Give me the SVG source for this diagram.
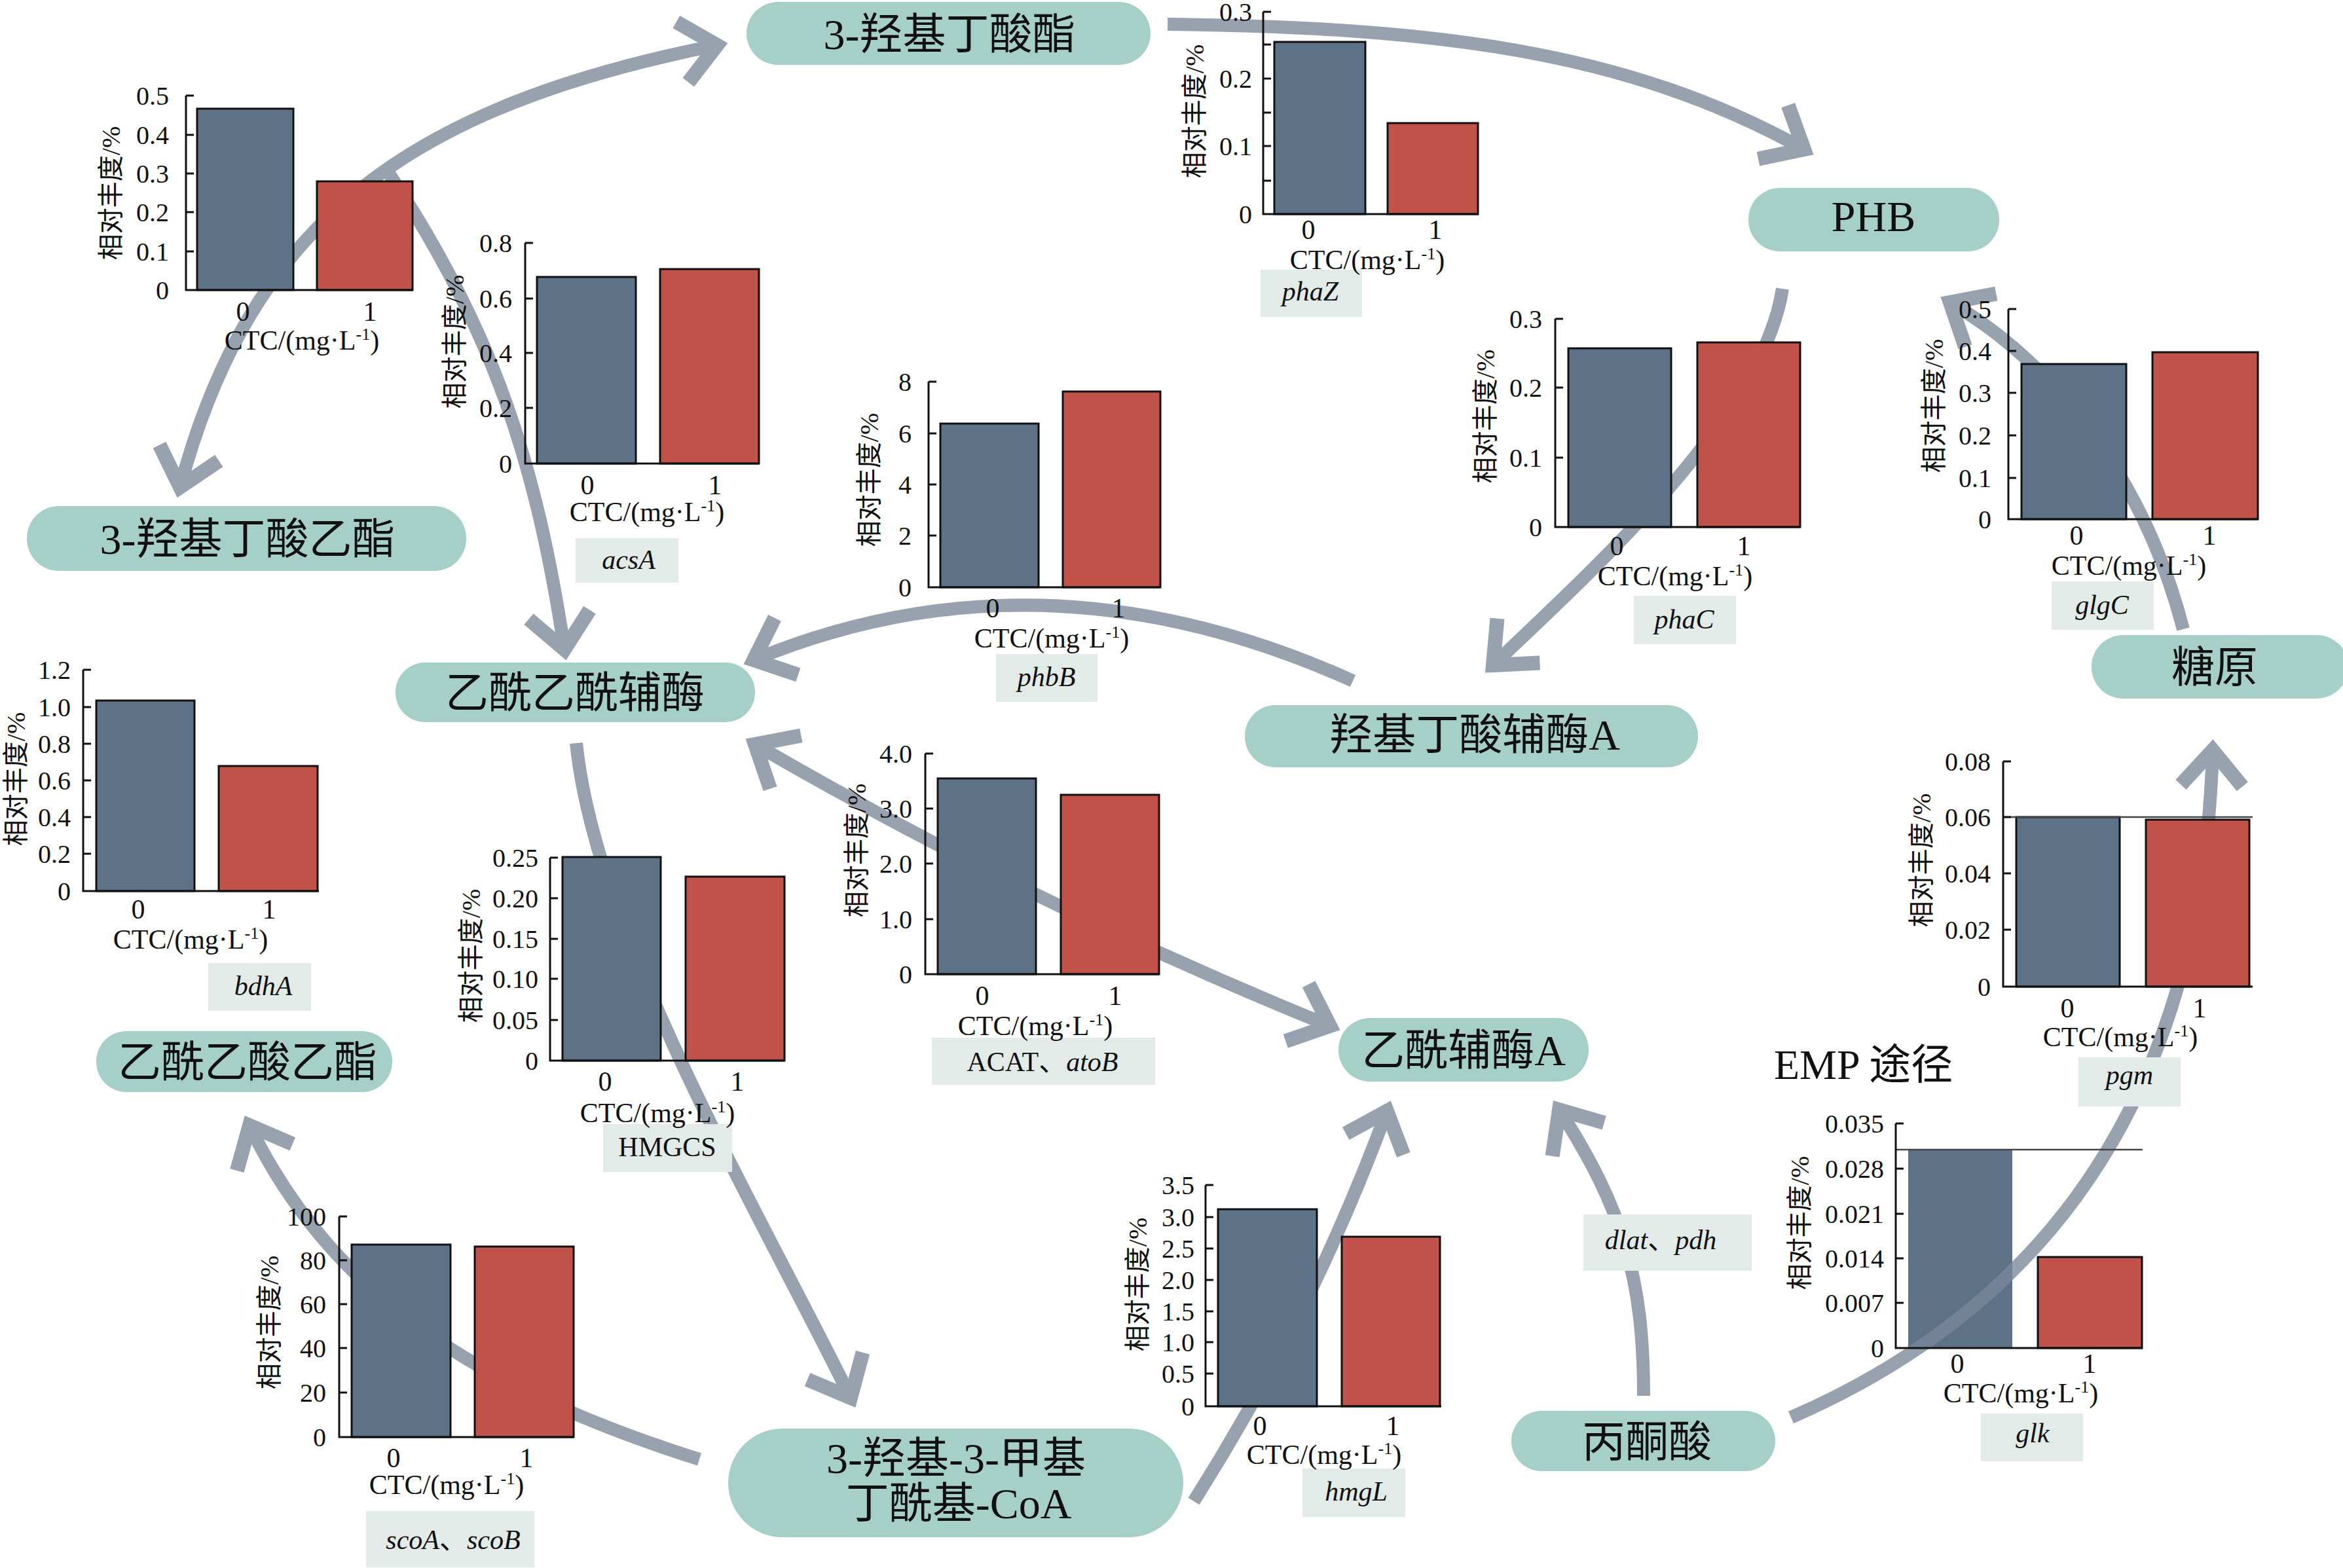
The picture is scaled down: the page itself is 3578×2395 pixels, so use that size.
<svg xmlns="http://www.w3.org/2000/svg" width="3578" height="2395" viewBox="0 0 3578 2395">
<style>
.cn{fill:none;stroke:#98a2ae;stroke-width:20;stroke-linecap:butt}
.nd{fill:#a6cfc7}
.nt{font-family:"Liberation Serif","Noto Sans CJK SC",serif;font-size:66px;fill:#111;text-anchor:middle}
.gb{fill:#e2ebe8}
.gt{font-family:"Liberation Serif","Noto Sans CJK SC",serif;font-size:42px;fill:#111;text-anchor:middle}
.it{font-style:italic}
.ax{fill:none;stroke:#111;stroke-width:3}
.tk{fill:none;stroke:#111;stroke-width:3}
.b0{fill:#5e7287;stroke:#111;stroke-width:3}
.b1{fill:#c1524a;stroke:#111;stroke-width:3}
.tl{font-family:"Liberation Serif",serif;font-size:40px;fill:#111;text-anchor:end}
.xl{font-family:"Liberation Serif",serif;font-size:42px;fill:#111;text-anchor:middle}
.sup{font-size:26px}
.yl{font-family:"Liberation Serif","Noto Sans CJK SC",serif;font-size:40px;fill:#111;text-anchor:middle;dominant-baseline:central}
.hl{fill:none;stroke:#444;stroke-width:2.5}
</style>
<defs>
<marker id="ah" markerUnits="userSpaceOnUse" orient="auto-start-reverse" refX="0" refY="0" markerWidth="200" markerHeight="200" style="overflow:visible">
<path d="M-54,-47 L0,0 L-54,47" fill="none" stroke="#98a2ae" stroke-width="22" stroke-linejoin="miter"/>
</marker>
<clipPath id="clipglk"><rect x="2914" y="1756" width="159" height="303"/></clipPath>
</defs>
<rect x="0" y="0" width="3578" height="2395" fill="#fff"/>

<g id="connectors">
<path class="cn" d="M275,744 C384,337 625,163 1095,69" marker-start="url(#ah)" marker-end="url(#ah)"/>
<path class="cn" d="M592,262 C756,507 820,715 862,992" marker-end="url(#ah)"/>
<path class="cn" d="M1783,37 C2185,42 2480,75 2755,228" marker-end="url(#ah)"/>
<path class="cn" d="M2722,441 C2692,639 2424,878 2280,1016" marker-end="url(#ah)"/>
<path class="cn" d="M2066,1040 Q1591,826 1151,1008" marker-end="url(#ah)"/>
<path class="cn" d="M1153,1137 Q1577,1383 2031,1567" marker-start="url(#ah)" marker-end="url(#ah)"/>
<path class="cn" d="M880,1135 C910,1433 1167,1865 1299,2135" marker-end="url(#ah)"/>
<path class="cn" d="M1068,2229 C754,2130 510,1989 381,1719" marker-end="url(#ah)"/>
<path class="cn" d="M1823,2293 Q2002,2011 2118,1697" marker-end="url(#ah)"/>
<path class="cn" d="M2510,2132 C2510,1952 2478,1846 2381,1695" marker-end="url(#ah)"/>
<path class="cn" d="M2735,2165 C3149,1985 3364,1646 3379,1146" marker-end="url(#ah)"/>
<path class="cn" d="M3334,961 C3279,748 3150,562 2978,462" marker-end="url(#ah)"/>
</g>

<g id="gene-labels">
<g id="gene-phaZ"><rect class="gb" x="1925" y="412" width="155" height="72"/><text class="gt it" x="2001" y="459">phaZ</text></g>
<g id="gene-acsA"><rect class="gb" x="879" y="822" width="157" height="68"/><text class="gt it" x="960" y="869">acsA</text></g>
<g id="gene-phbB"><rect class="gb" x="1521" y="999" width="155" height="73"/><text class="gt it" x="1598" y="1048">phbB</text></g>
<g id="gene-phaC"><rect class="gb" x="2495" y="910" width="156" height="74"/><text class="gt it" x="2572" y="960">phaC</text></g>
<g id="gene-glgC"><rect class="gb" x="3133" y="888" width="156" height="74"/><text class="gt it" x="3210" y="938">glgC</text></g>
<g id="gene-bdhA"><rect class="gb" x="318" y="1471" width="157" height="73"/><text class="gt it" x="402" y="1520">bdhA</text></g>
<g id="gene-HMGCS"><rect class="gb" x="921" y="1717" width="197" height="73"/><text class="gt" x="1019" y="1766">HMGCS</text></g>
<g id="gene-ACAT"><rect class="gb" x="1423" y="1585" width="341" height="72"/><text class="gt" x="1592" y="1636">ACAT、<tspan class="it">atoB</tspan></text></g>
<g id="gene-sco"><rect class="gb" x="559" y="2308" width="257" height="86"/><text class="gt" x="692" y="2366"><tspan class="it">scoA</tspan>、<tspan class="it">scoB</tspan></text></g>
<g id="gene-hmgL"><rect class="gb" x="1989" y="2243" width="157" height="74"/><text class="gt it" x="2071" y="2292">hmgL</text></g>
<g id="gene-dlat"><rect class="gb" x="2418" y="1855" width="257" height="86"/><text class="gt" x="2536" y="1908"><tspan class="it">dlat</tspan>、<tspan class="it">pdh</tspan></text></g>
<g id="gene-pgm"><rect class="gb" x="3174" y="1615" width="156" height="75"/><text class="gt it" x="3252" y="1656">pgm</text></g>
<g id="gene-glk"><rect class="gb" x="3025" y="2159" width="156" height="73"/><text class="gt it" x="3104" y="2203">glk</text></g>
</g>

<g id="chart-1">
<rect class="b0" x="301" y="166" width="147" height="277"/>
<rect class="b1" x="484" y="277" width="146" height="166"/>
<path class="tk" d="M284,146h12M284,206h12M284,265h12M284,324h12M284,384h12"/>
<path class="ax" d="M284,146V443H630"/>
<text class="tl" x="258" y="160">0.5</text><text class="tl" x="258" y="220">0.4</text><text class="tl" x="258" y="279">0.3</text><text class="tl" x="258" y="338">0.2</text><text class="tl" x="258" y="398">0.1</text><text class="tl" x="258" y="457">0</text>
<text class="yl" x="169" y="295" transform="rotate(-90 169 295)">相对丰度/%</text>
<text class="xl" x="371" y="490">0</text><text class="xl" x="565" y="490">1</text>
<text class="xl" x="461" y="534">CTC/(mg·L<tspan class="sup" dy="-15">-1</tspan><tspan dy="15">)</tspan></text>
</g>

<g id="chart-acsA">
<rect class="b0" x="820" y="423" width="151" height="285"/>
<rect class="b1" x="1008" y="411" width="151" height="297"/>
<path class="tk" d="M802,371h12M802,456h12M802,539h12M802,623h12"/>
<path class="ax" d="M802,371V708H1159"/>
<text class="tl" x="782" y="385">0.8</text><text class="tl" x="782" y="470">0.6</text><text class="tl" x="782" y="553">0.4</text><text class="tl" x="782" y="637">0.2</text><text class="tl" x="782" y="722">0</text>
<text class="yl" x="694" y="522" transform="rotate(-90 694 522)">相对丰度/%</text>
<text class="xl" x="897" y="755">0</text><text class="xl" x="1092" y="755">1</text>
<text class="xl" x="988" y="796">CTC/(mg·L<tspan class="sup" dy="-15">-1</tspan><tspan dy="15">)</tspan></text>
</g>

<g id="chart-phaZ">
<rect class="b0" x="1946" y="64" width="139" height="263"/>
<rect class="b1" x="2119" y="188" width="138" height="139"/>
<path class="tk" d="M1929,18h12M1929,68h12M1929,120h12M1929,172h12M1929,223h12M1929,276h12"/>
<path class="ax" d="M1929,18V327H2258"/>
<text class="tl" x="1912" y="32">0.3</text><text class="tl" x="1912" y="134">0.2</text><text class="tl" x="1912" y="237">0.1</text><text class="tl" x="1912" y="341">0</text>
<text class="yl" x="1824" y="170" transform="rotate(-90 1824 170)">相对丰度/%</text>
<text class="xl" x="1998" y="365">0</text><text class="xl" x="2192" y="365">1</text>
<text class="xl" x="2088" y="411">CTC/(mg·L<tspan class="sup" dy="-15">-1</tspan><tspan dy="15">)</tspan></text>
</g>

<g id="chart-phbB">
<rect class="b0" x="1436" y="647" width="150" height="250"/>
<rect class="b1" x="1623" y="598" width="149" height="299"/>
<path class="tk" d="M1418,583h12M1418,662h12M1418,740h12M1418,818h12"/>
<path class="ax" d="M1418,583V897H1772"/>
<text class="tl" x="1392" y="597">8</text><text class="tl" x="1392" y="676">6</text><text class="tl" x="1392" y="754">4</text><text class="tl" x="1392" y="832">2</text><text class="tl" x="1392" y="911">0</text>
<text class="yl" x="1327" y="733" transform="rotate(-90 1327 733)">相对丰度/%</text>
<text class="xl" x="1516" y="943">0</text><text class="xl" x="1708" y="943">1</text>
<text class="xl" x="1606" y="989">CTC/(mg·L<tspan class="sup" dy="-15">-1</tspan><tspan dy="15">)</tspan></text>
</g>

<g id="chart-phaC">
<rect class="b0" x="2395" y="532" width="157" height="273"/>
<rect class="b1" x="2592" y="523" width="157" height="282"/>
<path class="tk" d="M2375,487h12M2375,592h12M2375,699h12"/>
<path class="ax" d="M2375,487V805H2749"/>
<text class="tl" x="2355" y="501">0.3</text><text class="tl" x="2355" y="606">0.2</text><text class="tl" x="2355" y="713">0.1</text><text class="tl" x="2355" y="819">0</text>
<text class="yl" x="2268" y="636" transform="rotate(-90 2268 636)">相对丰度/%</text>
<text class="xl" x="2469" y="848">0</text><text class="xl" x="2663" y="848">1</text>
<text class="xl" x="2558" y="894">CTC/(mg·L<tspan class="sup" dy="-15">-1</tspan><tspan dy="15">)</tspan></text>
</g>

<g id="chart-glgC">
<rect class="b0" x="3087" y="556" width="160" height="237"/>
<rect class="b1" x="3287" y="538" width="161" height="255"/>
<path class="tk" d="M3067,472h12M3067,536h12M3067,600h12M3067,665h12M3067,730h12"/>
<path class="ax" d="M3067,472V793H3448"/>
<text class="tl" x="3041" y="486">0.5</text><text class="tl" x="3041" y="550">0.4</text><text class="tl" x="3041" y="614">0.3</text><text class="tl" x="3041" y="679">0.2</text><text class="tl" x="3041" y="744">0.1</text><text class="tl" x="3041" y="807">0</text>
<text class="yl" x="2953" y="620" transform="rotate(-90 2953 620)">相对丰度/%</text>
<text class="xl" x="3171" y="832">0</text><text class="xl" x="3374" y="832">1</text>
<text class="xl" x="3251" y="878">CTC/(mg·L<tspan class="sup" dy="-15">-1</tspan><tspan dy="15">)</tspan></text>
</g>

<g id="chart-bdhA">
<rect class="b0" x="147" y="1070" width="150" height="291"/>
<rect class="b1" x="334" y="1170" width="151" height="191"/>
<path class="tk" d="M127,1023h12M127,1080h12M127,1136h12M127,1192h12M127,1248h12M127,1304h12"/>
<path class="ax" d="M127,1023V1361H487"/>
<text class="tl" x="108" y="1037">1.2</text><text class="tl" x="108" y="1094">1.0</text><text class="tl" x="108" y="1150">0.8</text><text class="tl" x="108" y="1206">0.6</text><text class="tl" x="108" y="1262">0.4</text><text class="tl" x="108" y="1318">0.2</text><text class="tl" x="108" y="1375">0</text>
<text class="yl" x="24" y="1190" transform="rotate(-90 24 1190)">相对丰度/%</text>
<text class="xl" x="211" y="1403">0</text><text class="xl" x="411" y="1403">1</text>
<text class="xl" x="291" y="1449">CTC/(mg·L<tspan class="sup" dy="-15">-1</tspan><tspan dy="15">)</tspan></text>
</g>

<g id="chart-HMGCS">
<rect class="b0" x="859" y="1309" width="150" height="311"/>
<rect class="b1" x="1047" y="1339" width="151" height="281"/>
<path class="tk" d="M840,1310h12M840,1372h12M840,1434h12M840,1495h12M840,1558h12"/>
<path class="ax" d="M840,1310V1620H1198"/>
<text class="tl" x="822" y="1324">0.25</text><text class="tl" x="822" y="1386">0.20</text><text class="tl" x="822" y="1448">0.15</text><text class="tl" x="822" y="1509">0.10</text><text class="tl" x="822" y="1572">0.05</text><text class="tl" x="822" y="1634">0</text>
<text class="yl" x="719" y="1460" transform="rotate(-90 719 1460)">相对丰度/%</text>
<text class="xl" x="924" y="1666">0</text><text class="xl" x="1126" y="1666">1</text>
<text class="xl" x="1004" y="1714">CTC/(mg·L<tspan class="sup" dy="-15">-1</tspan><tspan dy="15">)</tspan></text>
</g>

<g id="chart-ACAT">
<rect class="b0" x="1432" y="1189" width="150" height="299"/>
<rect class="b1" x="1620" y="1214" width="150" height="274"/>
<path class="tk" d="M1413,1151h12M1413,1235h12M1413,1319h12M1413,1404h12"/>
<path class="ax" d="M1413,1151V1488H1770"/>
<text class="tl" x="1393" y="1165">4.0</text><text class="tl" x="1393" y="1249">3.0</text><text class="tl" x="1393" y="1333">2.0</text><text class="tl" x="1393" y="1418">1.0</text><text class="tl" x="1393" y="1502">0</text>
<text class="yl" x="1308" y="1299" transform="rotate(-90 1308 1299)">相对丰度/%</text>
<text class="xl" x="1500" y="1535">0</text><text class="xl" x="1703" y="1535">1</text>
<text class="xl" x="1581" y="1581">CTC/(mg·L<tspan class="sup" dy="-15">-1</tspan><tspan dy="15">)</tspan></text>
</g>

<g id="chart-sco">
<rect class="b0" x="537" y="1901" width="151" height="294"/>
<rect class="b1" x="725" y="1904" width="151" height="291"/>
<path class="tk" d="M518,1858h12M518,1925h12M518,1992h12M518,2059h12M518,2127h12"/>
<path class="ax" d="M518,1858V2195H876"/>
<text class="tl" x="498" y="1872">100</text><text class="tl" x="498" y="1939">80</text><text class="tl" x="498" y="2006">60</text><text class="tl" x="498" y="2073">40</text><text class="tl" x="498" y="2141">20</text><text class="tl" x="498" y="2209">0</text>
<text class="yl" x="411" y="2020" transform="rotate(-90 411 2020)">相对丰度/%</text>
<text class="xl" x="601" y="2241">0</text><text class="xl" x="804" y="2241">1</text>
<text class="xl" x="682" y="2282">CTC/(mg·L<tspan class="sup" dy="-15">-1</tspan><tspan dy="15">)</tspan></text>
</g>

<g id="chart-hmgL">
<rect class="b0" x="1860" y="1847" width="151" height="301"/>
<rect class="b1" x="2049" y="1889" width="150" height="259"/>
<path class="tk" d="M1841,1810h12M1841,1859h12M1841,1907h12M1841,1955h12M1841,2003h12M1841,2050h12M1841,2098h12"/>
<path class="ax" d="M1841,1810V2148H2201"/>
<text class="tl" x="1824" y="1824">3.5</text><text class="tl" x="1824" y="1873">3.0</text><text class="tl" x="1824" y="1921">2.5</text><text class="tl" x="1824" y="1969">2.0</text><text class="tl" x="1824" y="2017">1.5</text><text class="tl" x="1824" y="2064">1.0</text><text class="tl" x="1824" y="2112">0.5</text><text class="tl" x="1824" y="2162">0</text>
<text class="yl" x="1737" y="1962" transform="rotate(-90 1737 1962)">相对丰度/%</text>
<text class="xl" x="1924" y="2192">0</text><text class="xl" x="2127" y="2192">1</text>
<text class="xl" x="2022" y="2236">CTC/(mg·L<tspan class="sup" dy="-15">-1</tspan><tspan dy="15">)</tspan></text>
</g>

<g id="chart-pgm">
<rect class="b0" x="3079" y="1248" width="158" height="259"/>
<rect class="b1" x="3277" y="1252" width="158" height="255"/>
<path class="hl" d="M3059,1248H3440"/>
<path class="tk" d="M3059,1163h12M3059,1248h12M3059,1334h12M3059,1420h12"/>
<path class="ax" d="M3059,1163V1507H3440"/>
<text class="tl" x="3040" y="1177">0.08</text><text class="tl" x="3040" y="1262">0.06</text><text class="tl" x="3040" y="1348">0.04</text><text class="tl" x="3040" y="1434">0.02</text><text class="tl" x="3040" y="1521">0</text>
<text class="yl" x="2934" y="1314" transform="rotate(-90 2934 1314)">相对丰度/%</text>
<text class="xl" x="3157" y="1554">0</text><text class="xl" x="3359" y="1554">1</text>
<text class="xl" x="3238" y="1598">CTC/(mg·L<tspan class="sup" dy="-15">-1</tspan><tspan dy="15">)</tspan></text>
</g>

<g id="chart-glk">
<rect x="2914" y="1756" width="159" height="303" fill="#5e7287"/>
<path clip-path="url(#clipglk)" d="M2735,2165 C3149,1985 3364,1646 3379,1146" fill="none" stroke="#98a2ae" stroke-width="20" opacity="0.35"/>
<rect class="b1" x="3112" y="1920" width="159" height="139"/>
<path class="hl" d="M2895,1756H3272"/>
<path class="tk" d="M2895,1716h12M2895,1785h12M2895,1854h12M2895,1922h12M2895,1990h12"/>
<path class="ax" d="M2895,1716V2059H3272"/>
<text class="tl" x="2877" y="1730">0.035</text><text class="tl" x="2877" y="1799">0.028</text><text class="tl" x="2877" y="1868">0.021</text><text class="tl" x="2877" y="1936">0.014</text><text class="tl" x="2877" y="2004">0.007</text><text class="tl" x="2877" y="2073">0</text>
<text class="yl" x="2748" y="1868" transform="rotate(-90 2748 1868)">相对丰度/%</text>
<text class="xl" x="2989" y="2097">0</text><text class="xl" x="3191" y="2097">1</text>
<text class="xl" x="3086" y="2142">CTC/(mg·L<tspan class="sup" dy="-15">-1</tspan><tspan dy="15">)</tspan></text>
</g>

<g id="nodes">
<g id="node-3hb-ester"><rect class="nd" x="1140" y="3" width="617" height="96" rx="48"/><text class="nt" x="1450" y="75">3-羟基丁酸酯</text></g>
<g id="node-PHB"><rect class="nd" x="2670" y="287" width="383" height="97" rx="48"/><text class="nt" x="2861" y="353">PHB</text></g>
<g id="node-ethyl-3hb"><rect class="nd" x="41" y="773" width="671" height="99" rx="49"/><text class="nt" x="378" y="846">3-羟基丁酸乙酯</text></g>
<g id="node-acac-coa"><rect class="nd" x="604" y="1012" width="549" height="91" rx="45"/><text class="nt" x="878" y="1081">乙酰乙酰辅酶</text></g>
<g id="node-hb-coa"><rect class="nd" x="1901" y="1077" width="692" height="95" rx="47"/><text class="nt" x="2252" y="1145">羟基丁酸辅酶A</text></g>
<g id="node-glycogen"><rect class="nd" x="3194" y="970" width="392" height="97" rx="48"/><text class="nt" x="3382" y="1042">糖原</text></g>
<g id="node-ethyl-acac"><rect class="nd" x="147" y="1575" width="452" height="93" rx="46"/><text class="nt" x="378" y="1645">乙酰乙酸乙酯</text></g>
<g id="node-acetyl-coa"><rect class="nd" x="2044" y="1555" width="382" height="97" rx="48"/><text class="nt" x="2235" y="1627">乙酰辅酶A</text></g>
<g id="node-hmg-coa"><rect class="nd" x="1112" y="2182" width="695" height="166" rx="83"/><text class="nt" x="1460" y="2250">3-羟基-3-甲基</text><text class="nt" x="1464" y="2319">丁酰基-CoA</text></g>
<g id="node-pyruvate"><rect class="nd" x="2308" y="2155" width="403" height="92" rx="46"/><text class="nt" x="2515" y="2225">丙酮酸</text></g>
</g>

<text id="emp-label" x="2709" y="1648" font-family="Liberation Serif, Noto Sans CJK SC, serif" font-size="64" fill="#111">EMP 途径</text>
</svg>
